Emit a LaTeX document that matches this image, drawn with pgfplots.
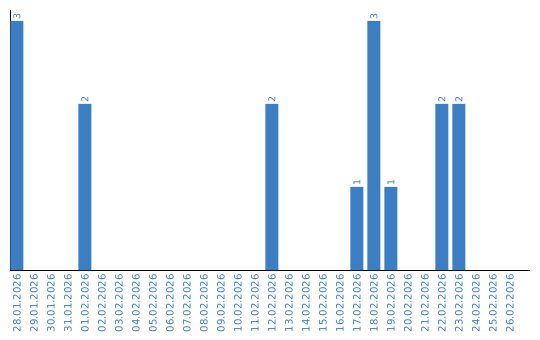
\documentclass[border=0pt]{standalone}
\usepackage{pgfplots}
\pgfplotsset{compat=1.18}
\usepackage{fontspec}
\setmainfont{DejaVu Sans}
\definecolor{barblue}{HTML}{3B7EC4}
\definecolor{lblblue}{HTML}{3C7DC3}
\begin{document}
\begin{tikzpicture}
\begin{axis}[
  name=ax,
  scale only axis,
  width=520bp, height=260bp,
  xmin=-0.41, xmax=30.18,
  ymin=0, ymax=3.13,
  axis lines*=left,
  axis line style={black, line width=1pt},
  ytick=\empty,
  xtick={0,...,29},
  xticklabels={28.01.2026,29.01.2026,30.01.2026,31.01.2026,01.02.2026,02.02.2026,03.02.2026,04.02.2026,05.02.2026,06.02.2026,07.02.2026,08.02.2026,09.02.2026,10.02.2026,11.02.2026,12.02.2026,13.02.2026,14.02.2026,15.02.2026,16.02.2026,17.02.2026,18.02.2026,19.02.2026,20.02.2026,21.02.2026,22.02.2026,23.02.2026,24.02.2026,25.02.2026,26.02.2026},
  major tick length=0pt,
  xticklabel style={rotate=90, anchor=east, font=\fontsize{10.2}{11}\selectfont, text=lblblue, inner sep=0pt, xshift=-4bp},
  ybar,
  bar width=13bp,
  nodes near coords,
  nodes near coords style={rotate=90, anchor=west, font=\fontsize{9.5}{10}\selectfont, text=lblblue, inner sep=1.5bp},
  point meta=explicit symbolic,
  clip=false,
]
\addplot[fill=barblue, draw=none] coordinates {
(0,3) [3]
(4,2) [2]
(15,2) [2]
(20,1) [1]
(21,3) [3]
(22,1) [1]
(25,2) [2]
(26,2) [2]
};
\end{axis}
\pgfresetboundingbox
\path ([xshift=-10bp,yshift=-70bp]ax.south west) rectangle ([xshift=10bp,yshift=10bp]ax.north east);
\end{tikzpicture}
\end{document}
